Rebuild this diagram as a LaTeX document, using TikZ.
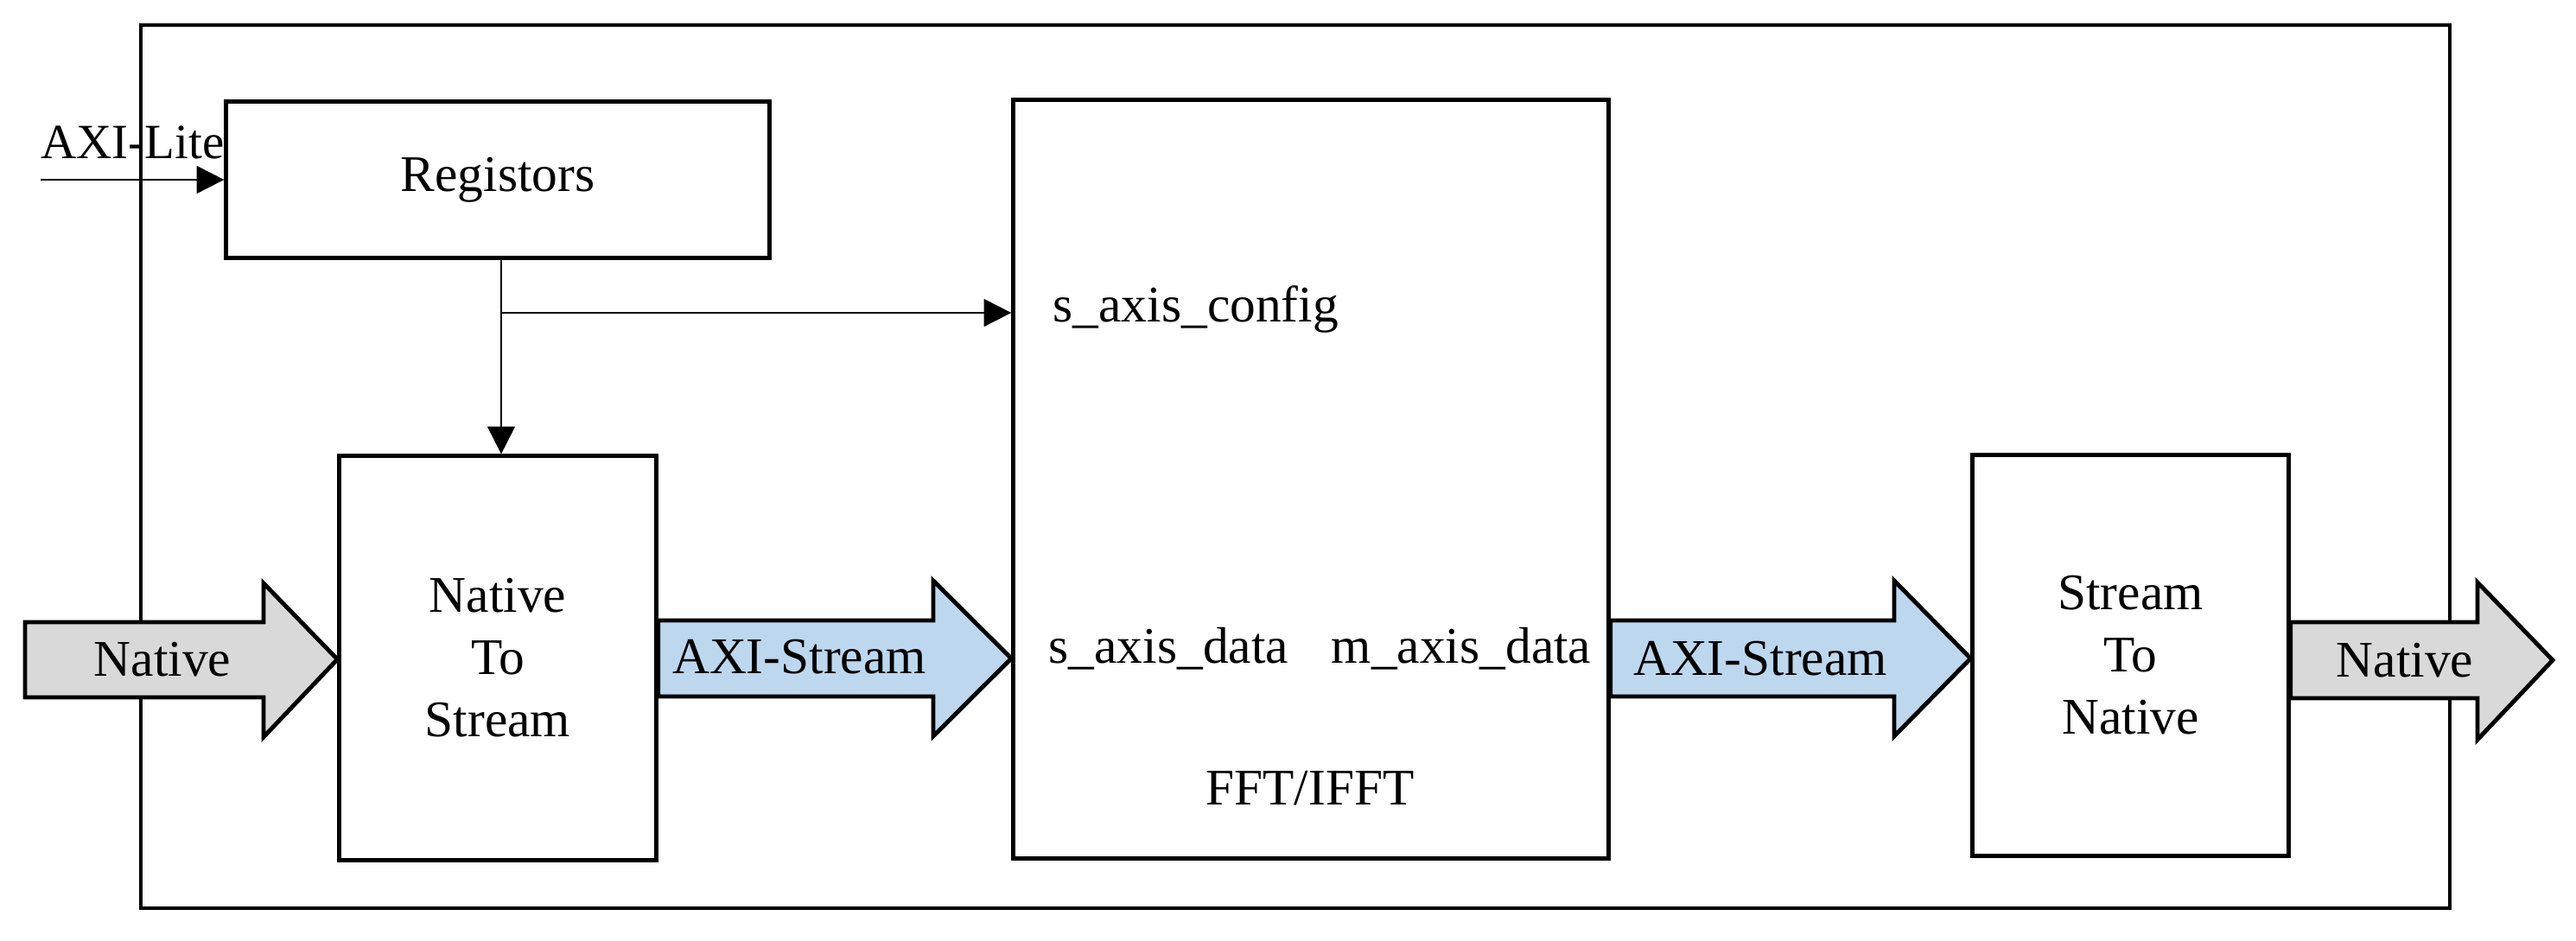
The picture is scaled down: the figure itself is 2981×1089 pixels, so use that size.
\documentclass[tikz,border=0pt]{standalone}
\usepackage{fontspec}
\setmainfont{Liberation Serif}
\usetikzlibrary{arrows.meta,calc}
\definecolor{nativefill}{HTML}{D9D9D9}
\definecolor{streamfill}{HTML}{BDD7EE}
\begin{document}
\begin{tikzpicture}[x=0.01cm,y=-0.01cm,
  font=\fontsize{16.9}{20.5}\selectfont,
  blockbox/.style={draw,line width=1.4pt,inner sep=0pt,align=center},
  outerbox/.style={draw,line width=1.4pt},
  conn/.style={line width=0.6pt,-{Triangle[length=9pt,width=9pt]}},
  nativearrow/.style={draw,line width=1.4pt,fill=nativefill,line join=miter},
  streamarrow/.style={draw,line width=1.4pt,fill=streamfill,line join=miter},
  lbl/.style={inner sep=0pt}]
\useasboundingbox (0,0) rectangle (2981,1089);
% outer frame
\draw[outerbox] (163,29) rectangle (2835,1051);
% blocks
\node[blockbox,minimum width=6.28cm,minimum height=1.80cm] (reg) at (576,208) {Registors};
\node[blockbox,minimum width=3.66cm,minimum height=4.67cm] (n2s) at (576,761.5) {Native\\To\\Stream};
\node[blockbox,minimum width=6.88cm,minimum height=8.77cm] (fft) at (1517,554.5) {};
\node[blockbox,minimum width=3.65cm,minimum height=4.63cm] (s2n) at (2465.5,758.5) {Stream\\To\\Native};
% FFT port labels
\node[lbl,anchor=base west] (cfg) at (1218,373) {s\_axis\_config};
\node[lbl,anchor=base west] (sdat) at (1213,768) {s\_axis\_data};
\node[lbl,anchor=base east] (mdat) at (1842,768) {m\_axis\_data};
\node[lbl,anchor=base] (fftlbl) at (1516,932) {FFT/IFFT};
% AXI-Lite input
\coordinate (axlin) at (47,208);
\node[lbl,anchor=base west,font=\fontsize{16.2}{20}\selectfont] (axl) at (47,184) {AXI-Lite};
\draw[conn] (axlin) -- (reg.west);
% register connections
\coordinate (br) at (580,362);
\draw[line width=0.6pt] (reg.south -| br) -- (br);
\draw[conn] (br) -- (br |- n2s.north);
\draw[conn] (br) -- (br -| fft.west);
% block arrows
\draw[nativearrow] (29,720) -- (305,720) -- (305,675) -- (n2s.west |- 0,763) -- (305,853) -- (305,807) -- (29,807) -- cycle;
\node[lbl,anchor=base] (nin) at (188,783) {Native};
\draw[streamarrow] (n2s.east |- 0,718) -- (1080,718) -- (1080,672) -- (fft.west |- 0,762) -- (1080,852) -- (1080,806) -- (n2s.east |- 0,806) -- cycle;
\node[lbl,anchor=base] (as1) at (925,780) {AXI-Stream};
\draw[streamarrow] (fft.east |- 0,718) -- (2192,718) -- (2192,672) -- (s2n.west |- 0,762) -- (2192,852) -- (2192,806) -- (fft.east |- 0,806) -- cycle;
\node[lbl,anchor=base] (as2) at (2037,782) {AXI-Stream};
\draw[nativearrow] (s2n.east |- 0,720) -- (2867,720) -- (2867,674) -- (2954,764) -- (2867,856) -- (2867,808) -- (s2n.east |- 0,808) -- cycle;
\node[lbl,anchor=base] (nout) at (2783,784) {Native};
\end{tikzpicture}
\end{document}
